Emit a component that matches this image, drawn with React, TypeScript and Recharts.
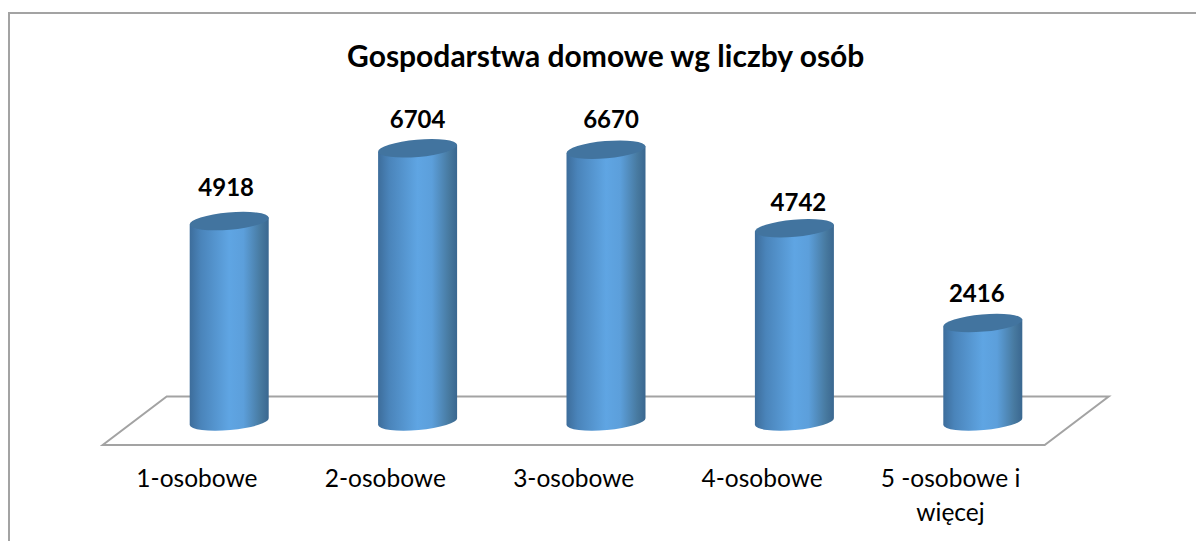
import React from 'react';
import { BarChart, Bar, XAxis, YAxis, LabelList, usePlotArea } from 'recharts';

const categories = ['1-osobowe', '2-osobowe', '3-osobowe', '4-osobowe', '5 -osobowe i więcej'];
const households = [4918, 6704, 6670, 4742, 2416];

// hand-placed data labels in the original, offsets from the bar centre
const labelNudgeX = [-3, 0, 5, 4, -6];
const labelNudgeY = [-5, 0, -2, 3, -1];

const data = categories.map((name, i) => ({ name, households: households[i] }));

const FONT = 'Lato, "Open Sans", sans-serif';
const GREY = '#a3a3a3';

const wrapLabel = (label: string, maxChars = 12) => {
  const lines: string[] = [];
  label.split(' ').forEach((word) => {
    const last = lines[lines.length - 1];
    if (last !== undefined && (last + ' ' + word).length <= maxChars) lines[lines.length - 1] = last + ' ' + word;
    else lines.push(word);
  });
  return lines;
};

const Cylinder = (props: any) => {
  const { x, y, width, height } = props;
  const tilt = 3.5;
  const rx = width / 2;
  const ry = 8.6;
  const left = x;
  const right = x + width;
  const bottom = y + height;
  const arc = `A${rx} ${ry} -5`;
  return (
    <g>
      <path
        d={`M${left} ${y + tilt} L${left} ${bottom + tilt} ${arc} 0 0 ${right} ${bottom - tilt} L${right} ${y - tilt} Z`}
        fill="url(#cylinderBody)"
      />
      <path
        d={`M${left} ${y + tilt} ${arc} 0 1 ${right} ${y - tilt} ${arc} 0 1 ${left} ${y + tilt} Z`}
        fill="#42749f"
      />
    </g>
  );
};

const Floor = () => {
  const plot = usePlotArea();
  if (!plot) return null;
  const baseline = plot.y + plot.height;
  const right = plot.x + plot.width;
  const points = [
    [plot.x + 32, baseline - 25],
    [right + 32, baseline - 25],
    [right - 32, baseline + 23.5],
    [plot.x - 32, baseline + 23.5],
  ];
  return <polygon points={points.map((p) => p.join(',')).join(' ')} fill="#fff" stroke={GREY} strokeWidth={2} />;
};

const Title = () => {
  const plot = usePlotArea();
  if (!plot) return null;
  return (
    <text x={plot.x + plot.width / 2} y={67} textAnchor="middle" fontFamily={FONT} fontWeight={700} fontSize={30} fill="#000">
      Gospodarstwa domowe wg liczby osób
    </text>
  );
};

const CategoryTick = (props: any) => {
  const { x, y, payload } = props;
  return (
    <text x={x - 32} y={y + 59} textAnchor="middle" fontFamily={FONT} fontSize={24.5} fill="#000">
      {wrapLabel(payload.value).map((line, i) => (
        <tspan key={line} x={x - 32} dy={i === 0 ? 0 : 34}>
          {line}
        </tspan>
      ))}
    </text>
  );
};

const ValueLabel = (props: any) => {
  const { x, y, width, value, index } = props;
  return (
    <text
      x={x + width / 2 + labelNudgeX[index]}
      y={y - 20 + labelNudgeY[index]}
      textAnchor="middle"
      fontFamily={FONT}
      fontWeight={700}
      fontSize={24}
      fill="#000"
    >
      {value}
    </text>
  );
};

export default function App() {
  return (
    <div style={{ position: 'fixed', left: 0, top: 0, width: 1196, height: 541, background: '#fff', overflow: 'hidden' }}>
      <div style={{ position: 'absolute', left: 8, top: 12, right: -4, bottom: -4, borderTop: `2px solid ${GREY}`, borderLeft: `2px solid ${GREY}` }} />
      <div style={{ position: 'absolute', left: 0, top: 0 }}>
        <BarChart
          width={1196}
          height={541}
          data={data}
          barSize={79}
          margin={{ top: 95.5, right: 119.3, bottom: 59.5, left: 134.7 }}
        >
          <defs>
            <linearGradient id="cylinderBody" x1="0" y1="0" x2="1" y2="0">
              <stop offset="0%" stopColor="#3d6d9b" />
              <stop offset="14%" stopColor="#4a84ba" />
              <stop offset="50%" stopColor="#5fa5e3" />
              <stop offset="68%" stopColor="#5c9fdb" />
              <stop offset="90%" stopColor="#47799f" />
              <stop offset="100%" stopColor="#3a6790" />
            </linearGradient>
          </defs>
          <Floor />
          <Title />
          <XAxis dataKey="name" axisLine={false} tickLine={false} interval={0} height={60} tickMargin={0} tick={<CategoryTick />} />
          <YAxis hide domain={[0, 8000]} />
          <Bar dataKey="households" shape={<Cylinder />} isAnimationActive={false}>
            <LabelList dataKey="households" content={<ValueLabel />} />
          </Bar>
        </BarChart>
      </div>
    </div>
  );
}
